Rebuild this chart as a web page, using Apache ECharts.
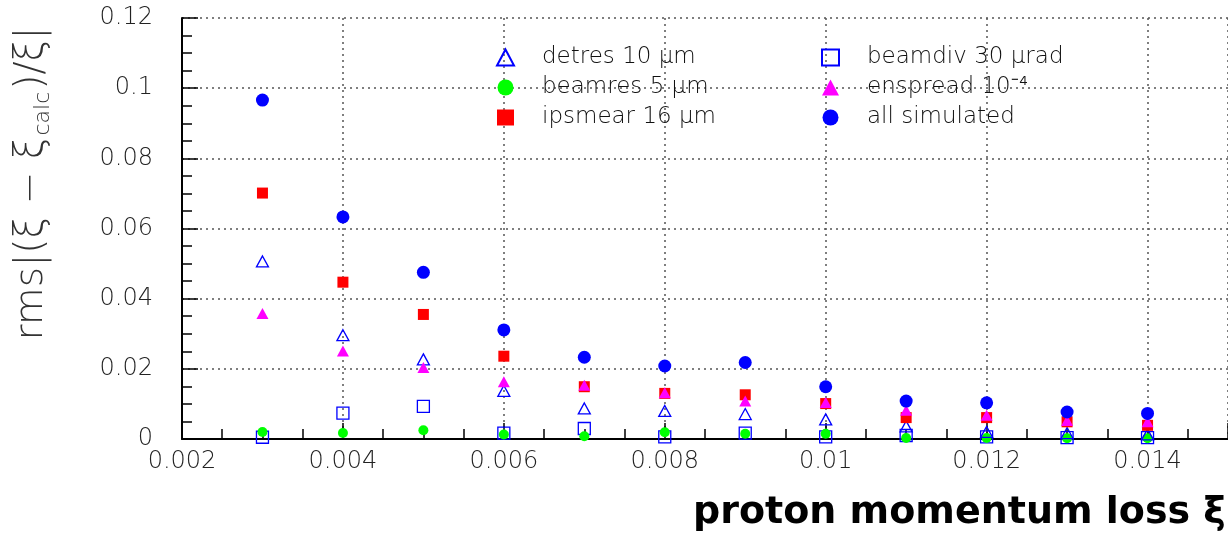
<!DOCTYPE html>
<html>
<head>
<meta charset="utf-8">
<script src="https://cdn.jsdelivr.net/npm/echarts@6/dist/echarts.min.js"></script>
<style>
  html, body { margin: 0; padding: 0; background: #fff; }
  #main { width: 1228px; height: 536px; }
</style>
</head>
<body>
<div id="main"></div>
<script>
// proton momentum loss (xi) values
var xiValues = [0.003, 0.004, 0.005, 0.006, 0.007, 0.008, 0.009, 0.010, 0.011, 0.012, 0.013, 0.014];

// rms|(xi - xi_calc)/xi| per smearing source
var detres   = [0.0506, 0.0296, 0.0227, 0.0137, 0.0087, 0.0080, 0.0071, 0.0056, 0.0036, 0.0020, 0.0017, 0.0013];
var beamres  = [0.0020, 0.0017, 0.0025, 0.0013, 0.0008, 0.0019, 0.0015, 0.0015, 0.0003, 0.0003, 0.0002, 0.0002];
var ipsmear  = [0.0701, 0.0447, 0.0355, 0.0236, 0.0149, 0.0130, 0.0126, 0.0101, 0.0061, 0.0061, 0.0049, 0.0039];
var beamdiv  = [0.0005, 0.0074, 0.0093, 0.0017, 0.0030, 0.0006, 0.0017, 0.0006, 0.0010, 0.0006, 0.0004, 0.0004];
var enspread = [0.0358, 0.0251, 0.0204, 0.0163, 0.0153, 0.0132, 0.0108, 0.0104, 0.0082, 0.0068, 0.0053, 0.0049];
var allSim   = [0.0966, 0.0633, 0.0475, 0.0311, 0.0233, 0.0208, 0.0218, 0.0149, 0.0108, 0.0103, 0.0077, 0.0073];

var names = ['detres 10 \u03bcm', 'beamres 5 \u03bcm', 'ipsmear 16 \u03bcm',
             'beamdiv 30 \u03bcrad', 'enspread 10\u207b\u2074', 'all simulated'];

function pts(ys) {
  var out = [];
  for (var i = 0; i < xiValues.length; i++) out.push([xiValues[i], ys[i]]);
  return out;
}

var thinFont = 'DejaVu Sans';
var dom = document.getElementById('main');
var myChart = echarts.init(dom);

var gridLine = { show: true, lineStyle: { color: '#555', width: 1.5, type: [2, 4] } };

var legendText = { fontFamily: thinFont, fontWeight: 200, fontSize: 23, color: '#111' };
// legend text sits far from the symbol, pad it with spaces
var legendFmt = function (n) { return '\u2002\u2002' + n; };

var option = {
  animation: false,
  backgroundColor: '#fff',
  grid: { left: 182, top: 18, width: 1053, bottom: 97 },
  legend: [
    {
      orient: 'vertical', left: 491, top: 41,
      itemWidth: 17, itemHeight: 16, itemGap: 7,
      textStyle: legendText, formatter: legendFmt,
      data: [names[0], names[1], names[2]]
    },
    {
      orient: 'vertical', left: 816, top: 41,
      itemWidth: 17, itemHeight: 16, itemGap: 7,
      textStyle: legendText, formatter: legendFmt,
      data: [names[3], names[4], names[5]]
    }
  ],
  xAxis: {
    type: 'value',
    min: 0.002, max: 0.015, interval: 0.002,
    name: 'proton momentum loss \u03be',
    nameLocation: 'start', nameGap: 0,
    nameTextStyle: {
      fontFamily: 'DejaVu Sans', fontWeight: 'bold', fontSize: 38, color: '#000',
      align: 'left', verticalAlign: 'top', padding: [55, 0, 0, 511]
    },
    axisLine: { show: true, onZero: false, lineStyle: { color: '#000', width: 2 } },
    axisTick: { show: true, inside: true, length: 16, lineStyle: { color: '#000', width: 1.5 } },
    minorTick: { show: true, splitNumber: 4, length: 10, lineStyle: { color: '#000', width: 1.5 } },
    axisLabel: {
      showMaxLabel: false, margin: 11,
      fontFamily: thinFont, fontWeight: 200, fontSize: 24, color: '#222'
    },
    splitLine: gridLine
  },
  yAxis: {
    type: 'value',
    min: 0, max: 0.12, interval: 0.02,
    name: '{a|rms|(\u03be \u2212 \u03be}{s|calc}{a|)/\u03be|}',
    nameLocation: 'middle', nameGap: 150,
    nameTextStyle: {
      verticalAlign: 'middle',
      padding: [0, 0, 0, 90],
      rich: {
        a: { fontFamily: thinFont, fontWeight: 200, fontSize: 39, color: '#333', lineHeight: 44 },
        s: { fontFamily: thinFont, fontWeight: 200, fontSize: 22, color: '#333', lineHeight: 20, verticalAlign: 'bottom', padding: [0, 2, 0, 2] }
      }
    },
    axisLine: { show: true, lineStyle: { color: '#000', width: 2 } },
    axisTick: { show: true, inside: true, length: 16, lineStyle: { color: '#000', width: 1.5 } },
    minorTick: { show: true, splitNumber: 4, length: 10, lineStyle: { color: '#000', width: 1.5 } },
    axisLabel: {
      margin: 29,
      fontFamily: thinFont, fontWeight: 200, fontSize: 24, color: '#222'
    },
    splitLine: gridLine
  },
  series: [
    {
      name: names[3], type: 'scatter', symbol: 'rect', symbolSize: 12,
      itemStyle: { color: 'rgba(0,0,0,0)', borderColor: '#0000ff', borderWidth: 1.3, opacity: 1 },
      data: pts(beamdiv)
    },
    {
      name: names[1], type: 'scatter', symbol: 'circle', symbolSize: 10,
      itemStyle: { color: '#00ff00', opacity: 1 },
      data: pts(beamres)
    },
    {
      name: names[0], type: 'scatter', symbol: 'triangle', symbolSize: [12, 11],
      itemStyle: { color: 'rgba(0,0,0,0)', borderColor: '#0000ff', borderWidth: 1.3, opacity: 1 },
      data: pts(detres)
    },
    {
      name: names[2], type: 'scatter', symbol: 'rect', symbolSize: 11,
      itemStyle: { color: '#ff0000', opacity: 1 },
      data: pts(ipsmear)
    },
    {
      name: names[4], type: 'scatter', symbol: 'triangle', symbolSize: [12, 11],
      itemStyle: { color: '#ff00ff', opacity: 1 },
      data: pts(enspread)
    },
    {
      name: names[5], type: 'scatter', symbol: 'circle', symbolSize: 13,
      itemStyle: { color: '#0000ff', opacity: 1 },
      data: pts(allSim)
    }
  ]
};

myChart.setOption(option);
</script>
</body>
</html>
